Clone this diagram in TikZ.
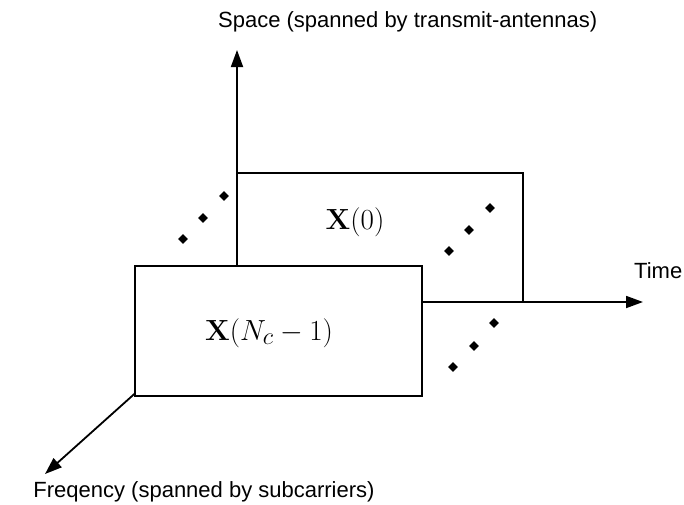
\documentclass[tikz,border=0pt]{standalone}
\usepackage[no-math]{fontspec}
\setmainfont{Liberation Sans}
\usetikzlibrary{arrows.meta,shapes.geometric}
\begin{document}
\begin{tikzpicture}[x=1pt,y=-1pt,
  axis/.style={line width=1.8pt,-{Triangle[length=17pt,width=12pt]}},
  box/.style={draw,line width=1.8pt,fill=white,rectangle,inner sep=0pt},
  dotmark/.style={diamond,fill=black,inner sep=0pt,minimum size=10pt},
  lbl/.style={font=\fontsize{22}{26}\selectfont,inner sep=0pt},
  mlbl/.style={font=\fontsize{24.88}{30}\selectfont,inner sep=0pt,scale=1.17}]
\useasboundingbox (0,0) rectangle (684,504);
\coordinate (O) at (237,302);
\coordinate (Ttip) at (643,302);
\coordinate (Stip) at (237,50);
\coordinate (Ftip) at (45,474);
\node[box,minimum width=286pt,minimum height=129pt] (back) at (380,237.5) {};
\draw[axis] (O) -- (Ttip);
\draw[axis] (O) -- (Stip);
\draw[axis] (O) -- (Ftip);
\node[box,minimum width=287pt,minimum height=130pt] (front) at (278.5,331) {};
\node[mlbl] (x0) at (355,222) {$\mathbf{X}(0)$};
\node[mlbl] (xn) at (269,333) {$\mathbf{X}(N_c-1)$};
\node[lbl,anchor=west] (space) at (218,22) {Space (spanned by transmit-antennas)};
\node[lbl] (freq) at (204,492) {Freqency (spanned by subcarriers)};
\node[lbl,anchor=west] (time) at (634,271) {Time};
\node[dotmark] (a1) at (183,239) {};
\node[dotmark] (a2) at (203,218) {};
\node[dotmark] (a3) at (224,196) {};
\node[dotmark] (b1) at (449,251) {};
\node[dotmark] (b2) at (469,230) {};
\node[dotmark] (b3) at (490,208) {};
\node[dotmark] (c1) at (453,367) {};
\node[dotmark] (c2) at (474,346) {};
\node[dotmark] (c3) at (494,323) {};
\end{tikzpicture}
\end{document}
